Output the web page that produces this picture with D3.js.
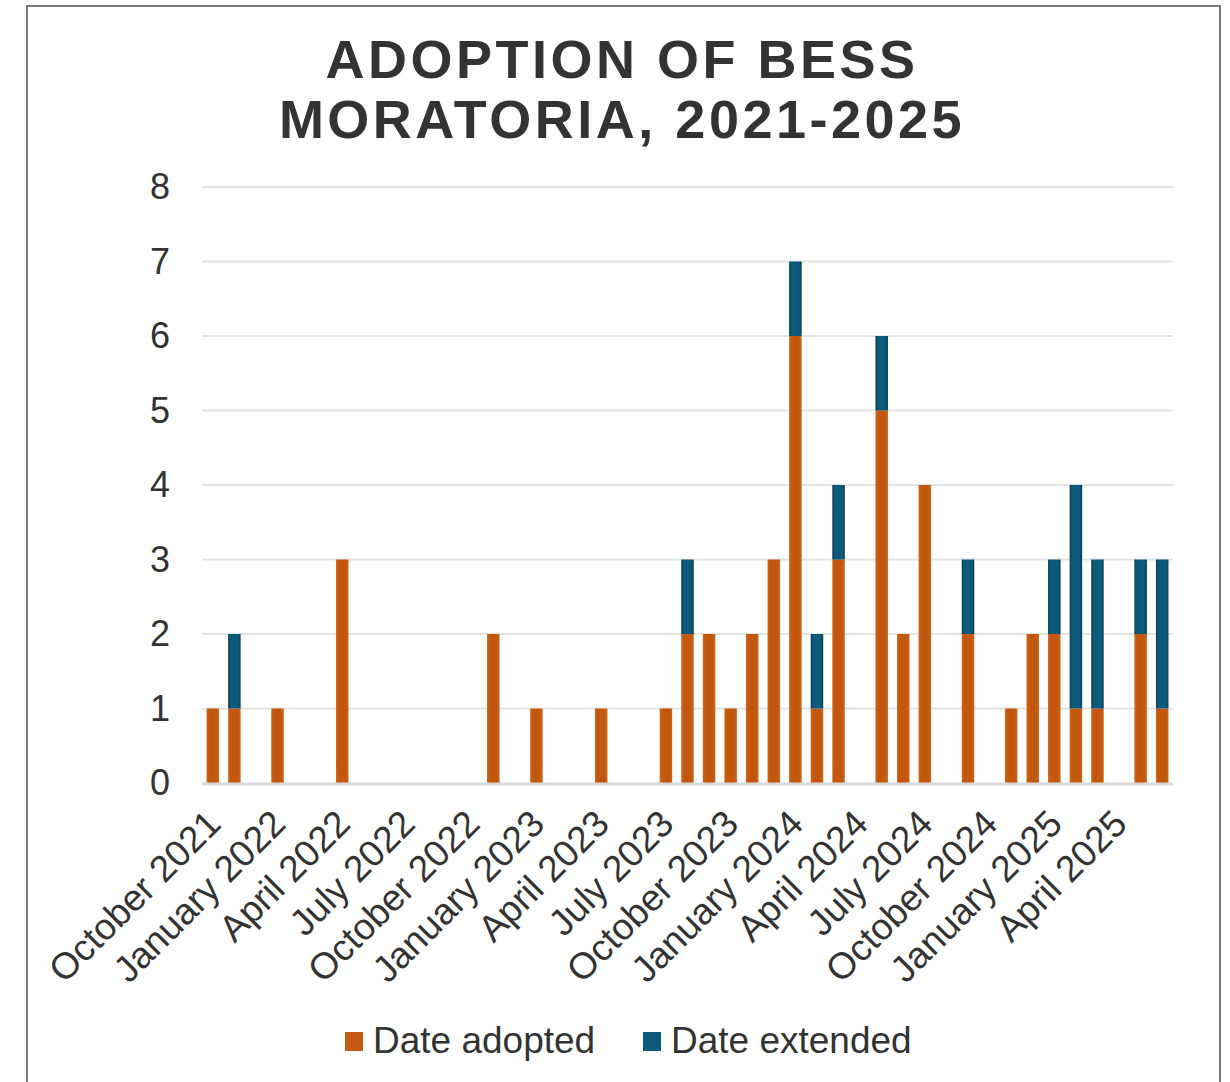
<!DOCTYPE html>
<html>
<head>
<meta charset="utf-8">
<script src="https://cdn.jsdelivr.net/npm/d3@7/dist/d3.min.js"></script>
<style>
  body { margin: 0; background: #fff; }
  text { font-family: Arial, "Liberation Sans", sans-serif; fill: #333; }
</style>
</head>
<body>
<script>
const months = [
  "October 2021", "November 2021", "December 2021",
  "January 2022", "February 2022", "March 2022", "April 2022", "May 2022", "June 2022",
  "July 2022", "August 2022", "September 2022", "October 2022", "November 2022", "December 2022",
  "January 2023", "February 2023", "March 2023", "April 2023", "May 2023", "June 2023",
  "July 2023", "August 2023", "September 2023", "October 2023", "November 2023", "December 2023",
  "January 2024", "February 2024", "March 2024", "April 2024", "May 2024", "June 2024",
  "July 2024", "August 2024", "September 2024", "October 2024", "November 2024", "December 2024",
  "January 2025", "February 2025", "March 2025", "April 2025", "May 2025", "June 2025"
];
const adopted = [
  1, 1, 0,
  1, 0, 0, 3, 0, 0,
  0, 0, 0, 0, 2, 0,
  1, 0, 0, 1, 0, 0,
  1, 2, 2, 1, 2, 3,
  6, 1, 3, 0, 5, 2,
  4, 0, 2, 0, 1, 2,
  2, 1, 1, 0, 2, 1
];
const extended = [
  0, 1, 0,
  0, 0, 0, 0, 0, 0,
  0, 0, 0, 0, 0, 0,
  0, 0, 0, 0, 0, 0,
  0, 1, 0, 0, 0, 0,
  1, 1, 1, 0, 1, 0,
  0, 0, 1, 0, 0, 0,
  1, 3, 2, 0, 1, 2
];
const tickLabels = months.filter((m, i) => i % 3 === 0);
const seriesNames = ["Date adopted", "Date extended"];
const seriesColors = ["#C55A11", "#0E5A7A"];
const yTicks = [0, 1, 2, 3, 4, 5, 6, 7, 8];

const W = 1230, H = 1082;
const plot = { left: 202, right: 1173, top: 187, bottom: 783 };

const svg = d3.select("body").append("svg")
  .attr("width", W).attr("height", H);

// gradients for the slightly shaded bars
const defs = svg.append("defs");
const grads = [
  ["gAdopted", "#D2661A", "#C25710"],
  ["gExtended", "#093F57", "#0E5A7A"]
];
grads.forEach(([id, edge, mid]) => {
  const g = defs.append("linearGradient").attr("id", id)
    .attr("x1", "0%").attr("x2", "100%").attr("y1", "0%").attr("y2", "0%");
  g.append("stop").attr("offset", "0%").attr("stop-color", edge);
  g.append("stop").attr("offset", "22%").attr("stop-color", mid);
  g.append("stop").attr("offset", "78%").attr("stop-color", mid);
  g.append("stop").attr("offset", "100%").attr("stop-color", edge);
});
const fills = ["url(#gAdopted)", "url(#gExtended)"];

// border
svg.append("rect")
  .attr("x", 27).attr("y", 6)
  .attr("width", 1193).attr("height", 1100)
  .attr("fill", "none").attr("stroke", "#7a7a7a").attr("stroke-width", 2);

// title
const title = svg.append("text")
  .attr("x", 622).attr("text-anchor", "middle")
  .style("font-size", "54px").style("font-weight", "bold")
  .style("letter-spacing", "3.5px");
title.append("tspan").attr("x", 622).attr("y", 78).text("ADOPTION OF BESS");
title.append("tspan").attr("x", 622).attr("y", 138).text("MORATORIA, 2021-2025");

const x = d3.scaleBand().domain(months)
  .range([plot.left, plot.right]).paddingInner(0.42).paddingOuter(0.21);
const y = d3.scaleLinear().domain([0, 8]).range([plot.bottom, plot.top]);

// gridlines
svg.append("g").selectAll("line").data(yTicks.filter(d => d > 0)).join("line")
  .attr("x1", plot.left).attr("x2", plot.right)
  .attr("y1", d => y(d)).attr("y2", d => y(d))
  .attr("stroke", "#e3e3e3").attr("stroke-width", 2);

// stacked bars
const rows = months.map((m, i) => ({ month: m, adopted: adopted[i], extended: extended[i] }));
const stack = d3.stack().keys(["adopted", "extended"])(rows);
svg.append("g").selectAll("g").data(stack).join("g")
  .attr("fill", (d, i) => fills[i])
  .selectAll("rect").data(d => d.filter(s => s[1] > s[0])).join("rect")
  .attr("x", d => x(d.data.month))
  .attr("width", x.bandwidth())
  .attr("y", d => y(d[1]))
  .attr("height", d => y(d[0]) - y(d[1]));

// baseline
svg.append("line")
  .attr("x1", plot.left).attr("x2", plot.right)
  .attr("y1", plot.bottom + 1).attr("y2", plot.bottom + 1)
  .attr("stroke", "#d9d9d9").attr("stroke-width", 3);

// y axis
const yAxis = svg.append("g").attr("transform", `translate(${plot.left},0)`)
  .call(d3.axisLeft(y).tickValues(yTicks).tickSize(0).tickPadding(32));
yAxis.select(".domain").remove();
yAxis.selectAll("text").style("font-size", "36px").attr("fill", "#333")
  .style("font-family", "Arial, 'Liberation Sans', sans-serif");

// x axis
const xAxis = svg.append("g").attr("transform", `translate(0,${plot.bottom})`)
  .call(d3.axisBottom(x).tickValues(tickLabels).tickSize(0));
xAxis.select(".domain").remove();
xAxis.selectAll("text")
  .style("font-size", "37px").attr("fill", "#333")
  .style("font-family", "Arial, 'Liberation Sans', sans-serif")
  .attr("text-anchor", "end")
  .attr("dy", null).attr("y", 0)
  .attr("transform", "translate(10,43) rotate(-45)");

// legend
const legend = svg.append("g");
const legendX = [345, 643];
seriesNames.forEach((name, i) => {
  legend.append("rect")
    .attr("x", legendX[i]).attr("y", 1032)
    .attr("width", 18).attr("height", 19)
    .attr("fill", seriesColors[i]);
  legend.append("text")
    .attr("x", legendX[i] + 28).attr("y", 1053)
    .style("font-size", "37px")
    .text(name);
});
</script>
</body>
</html>
